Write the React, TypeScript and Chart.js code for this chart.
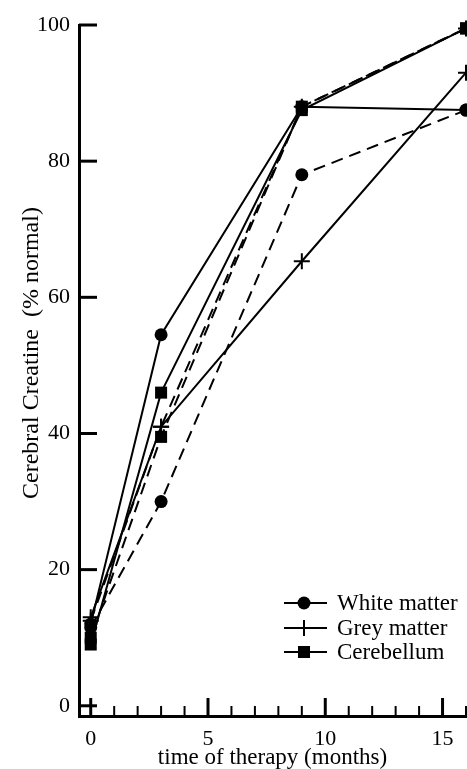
import React, { useEffect, useRef } from 'react';
import { Chart, registerables } from 'chart.js';

Chart.register(...registerables);

// ---- data ----
const months = [0, 3, 9, 16];
const whiteMatterSolid = [12, 54.5, 88, 87.5];
const whiteMatterDashed = [11.5, 30, 78, 87.5];
const greyMatterSolid = [13, 41, 65.3, 93];
const greyMatterDashed = [12.5, 41, 88, 99.5];
const cerebellumSolid = [9, 46, 87.5, 99.5];
const cerebellumDashed = [10, 39.5, 88, 99.5];

const legendLabels = ['White matter', 'Grey matter', 'Cerebellum'];
const yTickValues = [0, 20, 40, 60, 80, 100];
const xTickValues = [0, 1, 2, 3, 4, 5, 6, 7, 8, 9, 10, 11, 12, 13, 14, 15, 16];
const xLabelValues = [0, 5, 10, 15];
const xTitle = 'time of therapy (months)';
const yTitle = 'Cerebral Creatine  (% normal)';

const FONT = '"Liberation Serif", "Times New Roman", serif';

type Marker = 'circle' | 'cross' | 'rect';

function drawMarker(ctx: CanvasRenderingContext2D, style: Marker, x: number, y: number) {
  ctx.save();
  ctx.fillStyle = '#000';
  ctx.strokeStyle = '#000';
  if (style === 'circle') {
    ctx.beginPath();
    ctx.arc(x, y, 6.5, 0, Math.PI * 2);
    ctx.fill();
  } else if (style === 'rect') {
    ctx.fillRect(x - 6, y - 6, 12, 12);
  } else {
    ctx.lineWidth = 2;
    ctx.beginPath();
    ctx.moveTo(x - 8, y);
    ctx.lineTo(x + 8, y);
    ctx.moveTo(x, y - 8);
    ctx.lineTo(x, y + 8);
    ctx.stroke();
  }
  ctx.restore();
}

const axisDecor = {
  id: 'axisDecor',
  afterDraw(chart: any) {
    const { ctx, chartArea, scales } = chart;
    const xs = scales.x;
    const ys = scales.y;
    ctx.save();
    ctx.strokeStyle = '#000';
    // y ticks (inward)
    ctx.lineWidth = 3;
    yTickValues.forEach((v) => {
      const py = ys.getPixelForValue(v);
      ctx.beginPath();
      ctx.moveTo(chartArea.left, py);
      ctx.lineTo(chartArea.left + 18, py);
      ctx.stroke();
    });
    // x ticks (inward)
    xTickValues.forEach((v) => {
      const px = xs.getPixelForValue(v);
      const major = xLabelValues.includes(v);
      ctx.lineWidth = major ? 3 : 2;
      ctx.beginPath();
      ctx.moveTo(px, chartArea.bottom);
      ctx.lineTo(px, chartArea.bottom - (major ? 18 : 10));
      ctx.stroke();
    });
    // y title
    ctx.fillStyle = '#000';
    ctx.font = '24px ' + FONT;
    ctx.textAlign = 'center';
    ctx.textBaseline = 'alphabetic';
    ctx.translate(38, 353);
    ctx.rotate(-Math.PI / 2);
    ctx.fillText(yTitle, 0, 0);
    ctx.restore();

    // legend
    const styles: Marker[] = ['circle', 'cross', 'rect'];
    const rows = [603, 628, 652];
    ctx.save();
    legendLabels.forEach((lab, i) => {
      const ry = rows[i];
      ctx.strokeStyle = '#000';
      ctx.lineWidth = 2;
      ctx.beginPath();
      ctx.moveTo(284, ry);
      ctx.lineTo(327, ry);
      ctx.stroke();
      drawMarker(ctx, styles[i], 304, ry);
      ctx.fillStyle = '#000';
      ctx.font = '23px ' + FONT;
      ctx.textAlign = 'left';
      ctx.textBaseline = 'middle';
      ctx.fillText(lab, 337, ry + 1);
    });
    ctx.restore();
  },
};

function mkSet(values: number[], style: Marker, dashed: boolean) {
  const radius = style === 'circle' ? 6.5 : style === 'rect' ? 8.5 : 8;
  return {
    data: months.map((m, i) => ({ x: m, y: values[i] })),
    borderColor: '#000',
    backgroundColor: '#000',
    borderWidth: 2,
    borderDash: dashed ? [12, 7] : [],
    pointStyle: style,
    pointRadius: radius,
    pointBackgroundColor: '#000',
    pointBorderColor: '#000',
    pointBorderWidth: style === 'cross' ? 2 : 0,
    pointHoverRadius: radius,
    tension: 0,
    clip: false as any,
  };
}

export default function App() {
  const ref = useRef<HTMLCanvasElement | null>(null);
  useEffect(() => {
    if (!ref.current) return;
    const tickFont = { family: FONT, size: 22 };
    const chart = new Chart(ref.current, {
      type: 'line',
      data: {
        datasets: [
          mkSet(whiteMatterDashed, 'circle', true),
          mkSet(greyMatterDashed, 'cross', true),
          mkSet(cerebellumDashed, 'rect', true),
          mkSet(whiteMatterSolid, 'circle', false),
          mkSet(greyMatterSolid, 'cross', false),
          mkSet(cerebellumSolid, 'rect', false),
        ] as any,
      },
      options: {
        animation: false,
        responsive: false,
        devicePixelRatio: 1,
        layout: { autoPadding: false, padding: { top: 25, right: 1, left: 0, bottom: 0 } },
        plugins: { legend: { display: false }, tooltip: { enabled: false } },
        scales: {
          x: {
            type: 'linear',
            min: -0.5,
            max: 16,
            afterBuildTicks: (s: any) => {
              s.ticks = xTickValues.map((v) => ({ value: v }));
            },
            afterFit: (s: any) => {
              s.height = 53;
              s.paddingLeft = 0;
              s.paddingRight = 0;
            },
            ticks: {
              autoSkip: false,
              maxRotation: 0,
              padding: 10,
              color: '#000',
              font: tickFont,
              callback: (v: any) => (xLabelValues.includes(Number(v)) ? String(v) : ''),
            },
            grid: { display: false, drawTicks: false },
            border: { display: true, color: '#000', width: 3 },
            title: {
              display: true,
              text: xTitle,
              color: '#000',
              font: { family: FONT, size: 23 },
              padding: { top: 0, bottom: -3 },
            },
          },
          y: {
            type: 'linear',
            min: -1.5,
            max: 100,
            afterBuildTicks: (s: any) => {
              s.ticks = yTickValues.map((v) => ({ value: v }));
            },
            afterFit: (s: any) => {
              s.width = 79;
            },
            ticks: { padding: 9, color: '#000', font: tickFont },
            grid: { display: false, drawTicks: false },
            border: { display: true, color: '#000', width: 3 },
          },
        },
      } as any,
      plugins: [axisDecor],
    });
    return () => chart.destroy();
  }, []);
  return (
    <div style={{ position: 'absolute', left: 0, top: 0, width: 467, height: 769, background: '#fff' }}>
      <canvas ref={ref} width={467} height={769} style={{ display: 'block', width: 467, height: 769 }} />
    </div>
  );
}
